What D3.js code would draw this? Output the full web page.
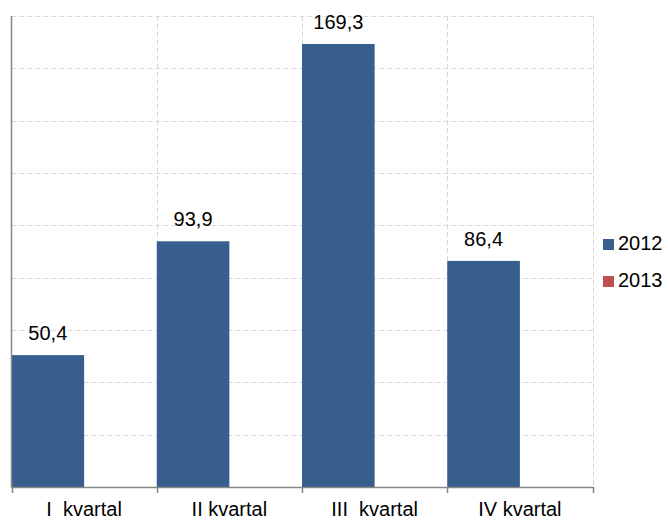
<!DOCTYPE html>
<html><head><meta charset="utf-8">
<script src="https://cdn.jsdelivr.net/npm/d3@7"></script>
<style>body{margin:0;background:#fff}svg{display:block}text{font-family:"Liberation Sans",Arial,sans-serif}</style>
</head><body>
<svg id="c" width="668" height="521"></svg>
<script>
const categories = ["I  kvartal", "II kvartal", "III  kvartal", "IV kvartal"];
const seriesNames = ["2012", "2013"];
const values2012 = [50.4, 93.9, 169.3, 86.4];
const values2013 = [null, null, null, null];
const yTicks = [0, 20, 40, 60, 80, 100, 120, 140, 160, 180];
const colors = ["#385E8F", "#C0504D"];

const svg = d3.select("#c");
const L = 11.5, R = 592.5, T = 16, B = 487;
const x = d3.scaleBand().domain(categories).range([L, R]).padding(0);
const xs = d3.scaleBand().domain(seriesNames).range([0, x.bandwidth()]).padding(0);
const y = d3.scaleLinear().domain([0, 180]).range([B, T]);
const fmt = v => d3.format(".1f")(v).replace(".", ",");

// horizontal gridlines
svg.append("g").selectAll("line").data(yTicks.filter(d => d > 0)).join("line")
  .attr("x1", L).attr("x2", R).attr("y1", d => Math.round(y(d)) + 0.5).attr("y2", d => Math.round(y(d)) + 0.5)
  .attr("stroke", "#D9D9D9").attr("stroke-width", 1).attr("stroke-dasharray", "5,3");
// vertical gridlines
svg.append("g").selectAll("line").data(categories).join("line")
  .attr("x1", d => Math.round(x(d) + x.bandwidth()) + 0.5).attr("x2", d => Math.round(x(d) + x.bandwidth()) + 0.5)
  .attr("y1", T).attr("y2", B)
  .attr("stroke", "#D9D9D9").attr("stroke-width", 1).attr("stroke-dasharray", "5,3");

// bars
const series = [values2012, values2013];
series.forEach((vals, si) => {
  svg.append("g").selectAll("rect").data(categories.map((c, i) => ({c, v: vals[i]})).filter(d => d.v != null)).join("rect")
    .attr("x", d => x(d.c) + xs(seriesNames[si]))
    .attr("width", xs.bandwidth())
    .attr("y", d => y(d.v))
    .attr("height", d => y(0) - y(d.v))
    .attr("fill", colors[si]);
  svg.append("g").selectAll("text").data(categories.map((c, i) => ({c, v: vals[i]})).filter(d => d.v != null)).join("text")
    .attr("x", d => x(d.c) + xs(seriesNames[si]) + xs.bandwidth() / 2)
    .attr("y", d => y(d.v) - 15)
    .attr("text-anchor", "middle").attr("font-size", 20).attr("fill", "#000")
    .text(d => fmt(d.v));
});

// axes
const xAxis = svg.append("g");
xAxis.append("line").attr("x1", L - 0.5).attr("x2", R + 0.5).attr("y1", B + 0.5).attr("y2", B + 0.5)
  .attr("stroke", "#868686").attr("stroke-width", 1.5);
const boundaries = [L].concat(categories.map(c => x(c) + x.bandwidth()));
xAxis.selectAll("line.tick").data(boundaries).join("line").attr("class", "tick")
  .attr("x1", d => Math.round(d) + 0.5).attr("x2", d => Math.round(d) + 0.5)
  .attr("y1", B).attr("y2", B + 6).attr("stroke", "#868686").attr("stroke-width", 1.5);
xAxis.selectAll("text").data(categories).join("text")
  .attr("x", d => x(d) + x.bandwidth() / 2).attr("y", 516)
  .attr("text-anchor", "middle").attr("font-size", 20).attr("fill", "#000")
  .attr("xml:space", "preserve").style("white-space", "pre")
  .text(d => d);
svg.append("line").attr("x1", L).attr("x2", L).attr("y1", T).attr("y2", B + 0.5)
  .attr("stroke", "#868686").attr("stroke-width", 1.5);

// legend
const lg = svg.append("g").selectAll("g").data(seriesNames).join("g")
  .attr("transform", (d, i) => `translate(603,${239 + i * 37})`);
lg.append("rect").attr("width", 11).attr("height", 11).attr("fill", (d, i) => colors[i]);
lg.append("text").attr("x", 15).attr("y", 11).attr("font-size", 20).attr("fill", "#000").text(d => d);
</script>
</body></html>
